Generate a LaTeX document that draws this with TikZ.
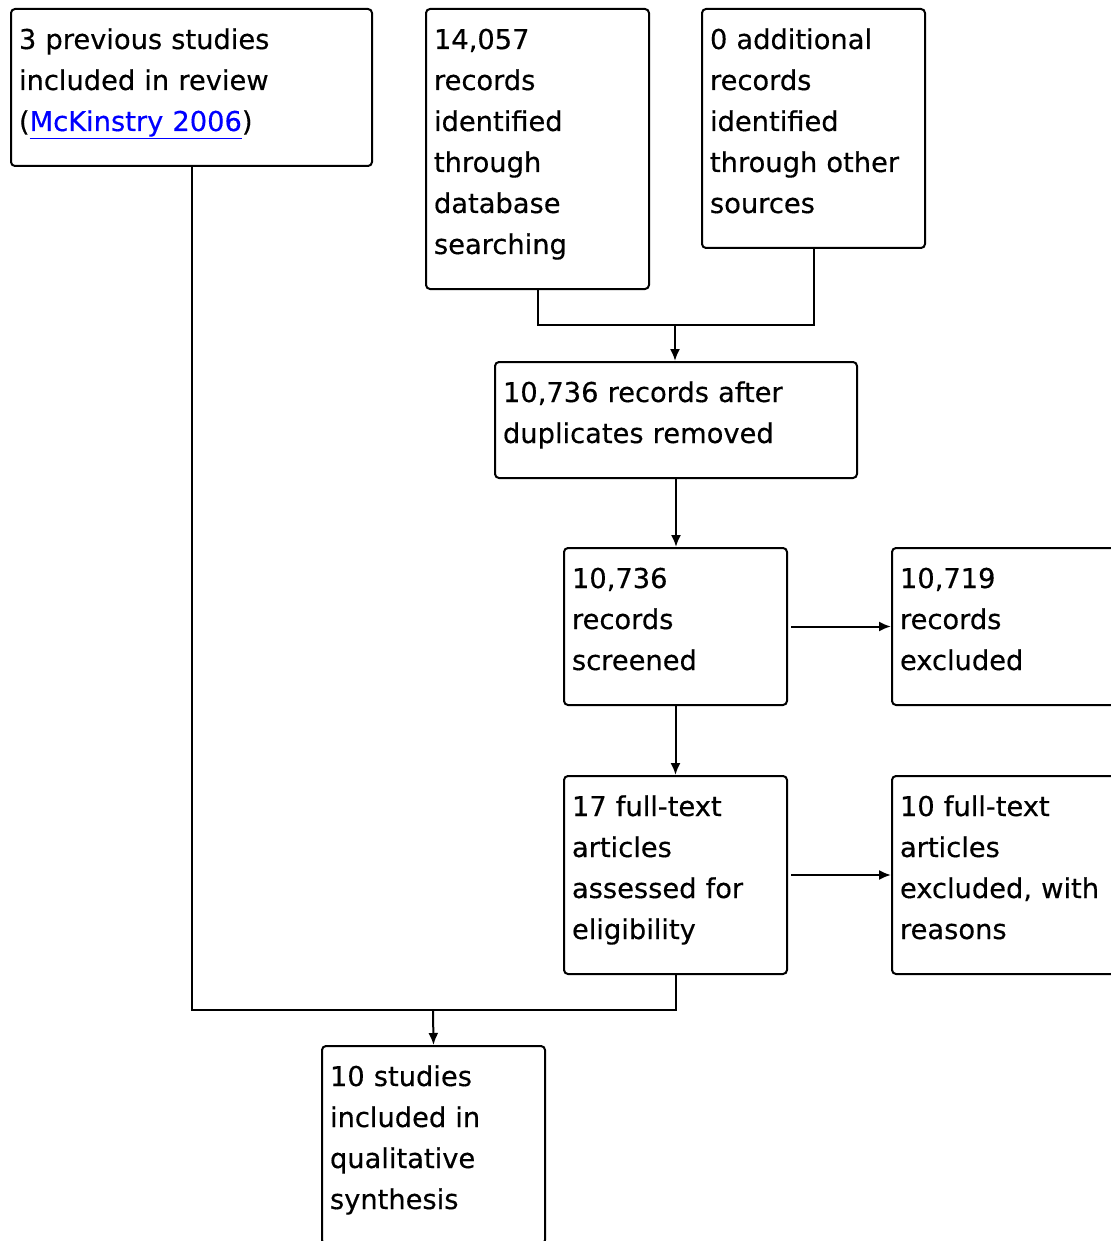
\documentclass[tikz,border=0pt]{standalone}
\usepackage{fontspec}
\setmainfont{DejaVu Sans}[FakeBold=0.4]
\usetikzlibrary{arrows.meta}
\tikzset{
  flowbox/.style = {draw=black, line width=2pt, rounded corners=4pt,
    anchor=north west, align=left, inner xsep=8pt, inner ysep=11.3pt,
    text width=207pt, font=\fontsize{27.3}{41}\selectfont,
    execute at begin node=\strut,
    execute at end node={\rule[-23.7pt]{0pt}{24pt}}},% box of the flow chart
  flowbox_wide/.style = {flowbox, text width=345pt},% wide box
}

\begin{document}
\begin{tikzpicture}[x=1pt,y=-1pt,->,>={Latex[length=12pt,width=10pt]},
  line width=2pt]
\useasboundingbox (0,0) rectangle (1110,1241);
\node [flowbox_wide] (prev) at (10,8) {3 previous studies\\ included in review\\
  (\textcolor{blue}{\underline{McKinstry 2006}})};
\node [flowbox] (db) at (425,8) {14,057\\ records\\ identified\\ through\\ database\\ searching};
\node [flowbox] (other) at (701,8) {0 additional\\ records\\ identified\\ through other\\ sources};
\node [flowbox_wide, text width=346pt] (dups) at (494,361) {10,736 records after\\ duplicates removed};
\node [flowbox] (screen) at (563,547) {10,736\\ records\\ screened};
\node [flowbox] (excl) at (891,547) {10,719\\ records\\ excluded};
\node [flowbox] (full) at (563,775) {17 full-text\\ articles\\ assessed for\\ eligibility};
\node [flowbox] (fullexcl) at (891,775) {10 full-text\\ articles\\ excluded, with\\ reasons};
\node [flowbox] (incl) at (321,1045) {10 studies\\ included in\\ qualitative\\ synthesis};

\coordinate (top_join) at (675,325);
\coordinate (bottom_join) at (433,1010);
\draw [-] (db.south) |- (top_join) -| (other.south);
\draw (top_join) -- (top_join |- dups.north);
\draw (dups.south) -- (dups.south |- screen.north);
\draw [shorten <=3pt] (screen.east) -- (excl.west);
\draw (screen.south) -- (full.north);
\draw [shorten <=3pt] (full.east) -- (fullexcl.west);
\draw [-] (full.south) |- (bottom_join) -| (prev.south);
\draw (bottom_join) -- (incl.north);
\end{tikzpicture}
\end{document}
